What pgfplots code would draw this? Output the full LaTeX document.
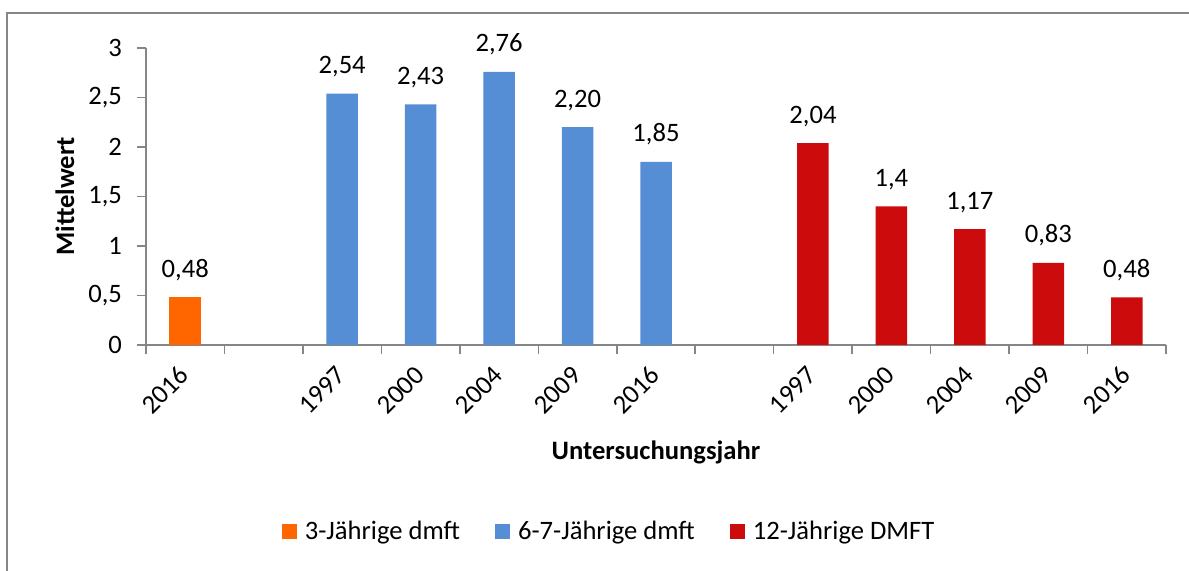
\documentclass[border=0pt]{standalone}
\usepackage{fontspec}
\setmainfont{Carlito}
\usepackage{pgfplots}
\usepackage{pgfplotstable}
\pgfplotsset{compat=1.18}
\definecolor{c3}{RGB}{255,102,0}
\definecolor{c6}{RGB}{85,142,213}
\definecolor{c12}{RGB}{204,12,12}
\definecolor{axgray}{RGB}{134,134,134}

\pgfplotstableread{
x y lab
0 0.48 0,48
}\dataA
\pgfplotstableread{
x y lab
2 2.54 2,54
3 2.43 2,43
4 2.76 2,76
5 2.20 2,20
6 1.85 1,85
}\dataB
\pgfplotstableread{
x y lab
8 2.04 2,04
9 1.40 1,4
10 1.17 1,17
11 0.83 0,83
12 0.48 0,48
}\dataC

\begin{document}
\begin{tikzpicture}[font=\fontsize{13.3}{16}\selectfont]
\useasboundingbox (0,0) rectangle (594.5pt,285.5pt);
\draw[axgray, line width=0.9pt] (3.5pt,-10pt) -- (3.5pt,279pt) -- (610pt,279pt);
\begin{axis}[
  at={(73pt,113pt)}, anchor=south west,
  scale only axis, width=510pt, height=148.5pt,
  xmin=-0.5, xmax=12.5, ymin=0, ymax=3,
  clip=false,
  axis lines=left, axis line style={-, axgray, line width=0.75pt},
  tick align=outside,
  xtick={0,2,3,4,5,6,8,9,10,11,12},
  xticklabels={2016,1997,2000,2004,2009,2016,1997,2000,2004,2009,2016},
  minor xtick={-0.5,0.5,...,12.5},
  major x tick style={draw=none},
  minor x tick style={draw=axgray, line width=0.75pt},
  minor tick length=4.5pt,
  ytick={0,0.5,...,3},
  yticklabels={0,{0,5},1,{1,5},2,{2,5},3},
  y tick style={draw=axgray, line width=0.75pt},
  major tick length=4.5pt,
  tick label style={font=\fontsize{13.3}{16}\selectfont},
  xticklabel style={xshift=2pt, yshift=-6pt, rotate=45, anchor=east},
  yticklabel style={xshift=-4pt},
  every node near coord/.append style={font=\fontsize{13.3}{16}\selectfont, anchor=base, yshift=10pt},
  legend style={at={(0.455,-0.628)}, anchor=center, draw=none, legend columns=3,
    font=\fontsize{13.3}{16}\selectfont,
    /tikz/every even column/.append style={column sep=15.5pt}},
  legend image code/.code={\fill[#1] (0pt,-3.75pt) rectangle (7.5pt,3.75pt); \path (9.5pt,0pt);},
]
\addplot[ybar, bar width=15.75pt, bar shift=0pt, fill=c3, draw=none,
  point meta=explicit symbolic, nodes near coords] table[x=x,y=y,meta=lab] {\dataA};
\addlegendentry{3-Jährige dmft}
\addplot[ybar, bar width=15.75pt, bar shift=0pt, fill=c6, draw=none,
  point meta=explicit symbolic, nodes near coords] table[x=x,y=y,meta=lab] {\dataB};
\addlegendentry{6-7-Jährige dmft}
\addplot[ybar, bar width=15.75pt, bar shift=0pt, fill=c12, draw=none,
  point meta=explicit symbolic, nodes near coords] table[x=x,y=y,meta=lab] {\dataC};
\addlegendentry{12-Jährige DMFT}
\end{axis}
\node[rotate=90, font=\bfseries\fontsize{13.3}{16}\selectfont] at (32.5pt,113pt+74.25pt) {Mittelwert};
\node[font=\bfseries\fontsize{13.3}{16}\selectfont] at (328pt,59.5pt) {Untersuchungsjahr};
\end{tikzpicture}
\end{document}
